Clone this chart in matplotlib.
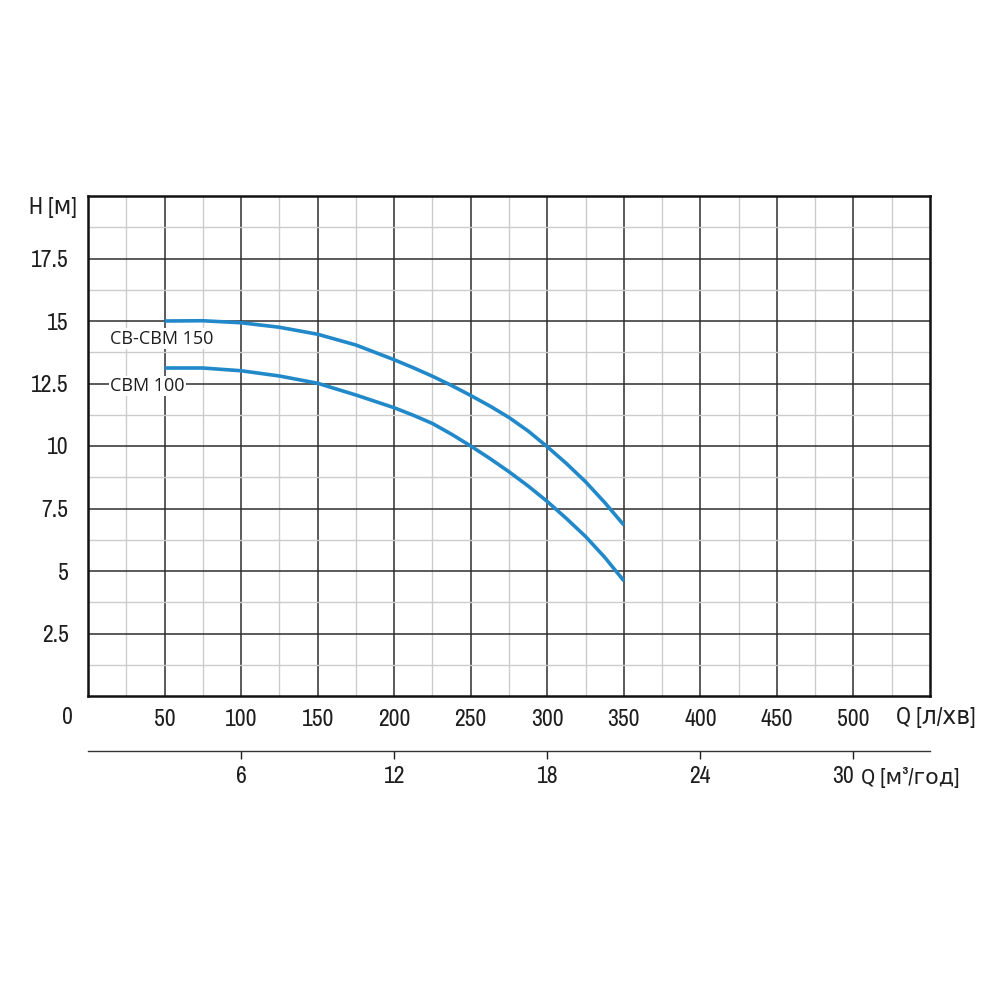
import matplotlib
matplotlib.use('Agg')
import matplotlib.pyplot as plt
from matplotlib import font_manager

# Data (Q in l/min, H in m)
q_lpm = [50, 75, 100, 125, 150, 175, 200, 212.5, 225, 237.5, 250, 262.5,
         275, 287.5, 300, 312.5, 325, 337.5, 350]
h_cbm150 = [15.0, 15.01, 14.93, 14.75, 14.47, 14.04, 13.45, 13.13, 12.79, 12.42,
            12.02, 11.6, 11.14, 10.6, 9.97, 9.3, 8.57, 7.74, 6.84]
h_cbm100 = [13.12, 13.12, 13.01, 12.8, 12.51, 12.04, 11.53, 11.23, 10.9, 10.47,
            10.0, 9.5, 8.97, 8.4, 7.78, 7.1, 6.38, 5.55, 4.61]

x_ticks = [50, 100, 150, 200, 250, 300, 350, 400, 450, 500]
y_ticks = [2.5, 5, 7.5, 10, 12.5, 15, 17.5]
y_labels = ['2.5', '5', '7.5', '10', '12.5', '15', '17.5']
m3h_ticks = [6, 12, 18, 24, 30]

# look for a narrow face, the original uses a condensed DIN-like font
names = sorted({f.name for f in font_manager.fontManager.ttflist})
narrow = [n for n in names if 'Narrow' in n or 'Condensed' in n]
tick_font = [narrow[0], 'DejaVu Sans'] if narrow else ['DejaVu Sans']
tick_size = 17 if narrow else 14
plt.rcParams['font.family'] = tick_font

blue = '#2189c9'
ink = '#1e1e1e'

fig = plt.figure(figsize=(10, 10), dpi=100)
ax = fig.add_axes([0.088, 0.304, 0.842, 0.5])

ax.set_xlim(0, 550)
ax.set_ylim(0, 20)

# grid
ax.set_xticks(x_ticks)
ax.set_xticks(range(25, 550, 50), minor=True)
ax.set_yticks(y_ticks)
ax.set_yticks([1.25 + 2.5 * i for i in range(8)], minor=True)
ax.set_yticklabels(y_labels)
ax.grid(which='major', color='#2e2e2e', linewidth=1.1)
ax.grid(which='minor', color='#cccccc', linewidth=1.0)
ax.set_axisbelow(True)
ax.tick_params(which='both', length=0)
ax.tick_params(axis='x', pad=9, labelsize=tick_size, colors=ink)
ax.tick_params(axis='y', pad=14, labelsize=tick_size, colors=ink)
for s in ax.spines.values():
    s.set_linewidth(1.8)
    s.set_color('#111111')

ax.plot(q_lpm, h_cbm150, color=blue, linewidth=2.6, solid_capstyle='butt')
ax.plot(q_lpm, h_cbm100, color=blue, linewidth=2.6, solid_capstyle='butt')

ax.text(14.5, 14.3, 'CB-CBM 150', fontsize=13, family=['Open Sans', 'DejaVu Sans'],
        va='center', ha='left', color=ink,
        bbox=dict(facecolor='white', edgecolor='none', pad=1))
ax.text(14.5, 12.4, 'CBM 100', fontsize=13, family=['Open Sans', 'DejaVu Sans'],
        va='center', ha='left', color=ink,
        bbox=dict(facecolor='white', edgecolor='none', pad=1))

# axis captions
ax.text(-0.014, 0.976, 'H [м]', transform=ax.transAxes, fontsize=tick_size,
        ha='right', va='center', color=ink)
ax.text(-0.024, -0.044, '0', transform=ax.transAxes,
        fontsize=tick_size, ha='center', va='center', color=ink)
ax.text(0.96, -0.044, 'Q [л/хв]', transform=ax.transAxes, fontsize=tick_size,
        ha='left', va='center', color=ink)

# secondary axis in m3/h
sec = ax.secondary_xaxis(-0.11, functions=(lambda x: x * 0.06, lambda x: x / 0.06))
sec.set_xticks(m3h_ticks)
sec.tick_params(length=6, width=1, pad=5, labelsize=tick_size, colors=ink)
sec.spines['bottom'].set_linewidth(1.0)
sec.spines['bottom'].set_color('#333333')
sec.get_xticklabels()[-1].set_ha('right')
ax.text(0.918, -0.164, 'Q [м³/год]', transform=ax.transAxes, fontsize=tick_size - 1,
        ha='left', va='center', color=ink)

fig.savefig('out.png', dpi=100, facecolor='white')
